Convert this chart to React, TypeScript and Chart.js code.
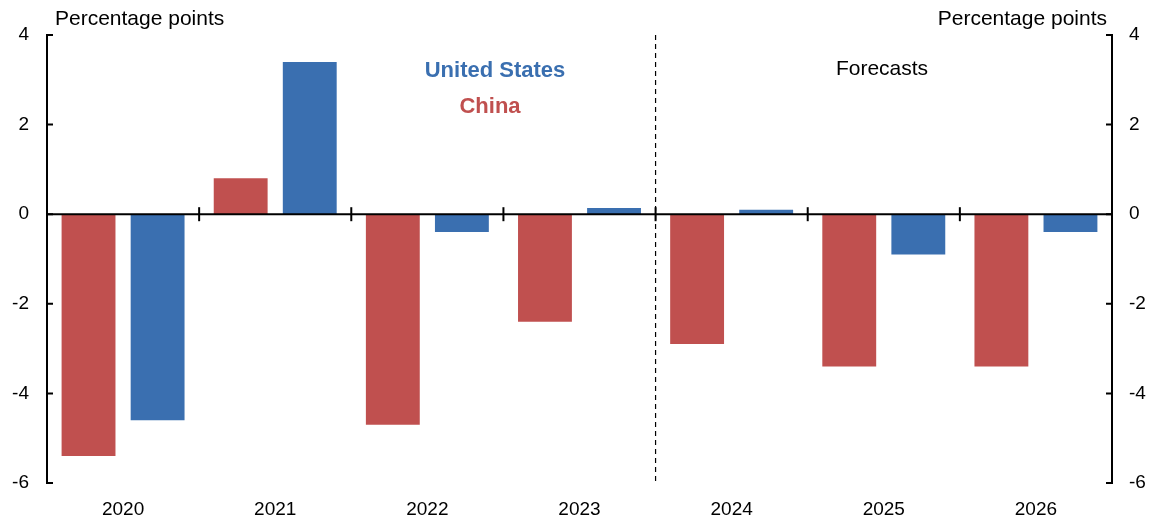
import React, { useEffect, useRef } from 'react';
import { Chart, registerables } from 'chart.js';

Chart.register(...registerables);

const categories = ['2020', '2021', '2022', '2023', '2024', '2025', '2026'];
const chinaValues = [-5.4, 0.8, -4.7, -2.4, -2.9, -3.4, -3.4];
const usValues = [-4.6, 3.4, -0.4, 0.14, 0.1, -0.9, -0.4];
const yMin = -6;
const yMax = 4;
const yStep = 2;
const forecastStartIndex = 4;

const RED = '#C0504F';
const BLUE = '#3A6FB0';
const FONT = '"Liberation Sans", Arial, sans-serif';

const overlayPlugin = {
  id: 'overlay',
  afterDatasetsDraw(chart: any) {
    const { ctx, chartArea, scales } = chart;
    const x = scales.x;
    const y = scales.y;
    const y0 = y.getPixelForValue(0);
    ctx.save();
    ctx.strokeStyle = '#000';
    ctx.lineWidth = 2;
    // zero line
    ctx.beginPath();
    ctx.moveTo(chartArea.left, y0);
    ctx.lineTo(chartArea.right, y0);
    ctx.stroke();
    // category boundary ticks
    for (let i = 1; i < categories.length; i++) {
      const bx = (x.getPixelForValue(i - 1) + x.getPixelForValue(i)) / 2;
      ctx.beginPath();
      ctx.moveTo(bx, y0 - 7);
      ctx.lineTo(bx, y0 + 7);
      ctx.stroke();
    }
    // inward y-axis ticks
    for (let v = yMin; v <= yMax; v += yStep) {
      const py = y.getPixelForValue(v);
      ctx.beginPath();
      ctx.moveTo(chartArea.left, py);
      ctx.lineTo(chartArea.left + 6, py);
      ctx.moveTo(chartArea.right, py);
      ctx.lineTo(chartArea.right - 6, py);
      ctx.stroke();
    }
    // dashed forecast divider
    const dx = (x.getPixelForValue(forecastStartIndex - 1) + x.getPixelForValue(forecastStartIndex)) / 2;
    ctx.lineWidth = 1.2;
    ctx.setLineDash([5, 4]);
    ctx.beginPath();
    ctx.moveTo(dx, chartArea.top);
    ctx.lineTo(dx, chartArea.bottom);
    ctx.stroke();
    ctx.setLineDash([]);
    // texts
    ctx.textBaseline = 'alphabetic';
    ctx.fillStyle = '#000';
    ctx.font = `21px ${FONT}`;
    ctx.textAlign = 'left';
    ctx.fillText('Percentage points', 55, 25);
    ctx.textAlign = 'right';
    ctx.fillText('Percentage points', 1107, 25);
    ctx.textAlign = 'center';
    ctx.fillText('Forecasts', 882, 75);
    ctx.font = `bold 22px ${FONT}`;
    ctx.fillStyle = BLUE;
    ctx.fillText('United States', 495, 77);
    ctx.fillStyle = RED;
    ctx.fillText('China', 490, 113);
    ctx.restore();
  },
};

export default function App() {
  const canvasRef = useRef<HTMLCanvasElement | null>(null);

  useEffect(() => {
    const canvas = canvasRef.current;
    if (!canvas) return;
    const chart = new Chart(canvas, {
      type: 'bar',
      data: {
        labels: categories,
        datasets: [
          {
            label: 'China',
            data: chinaValues,
            backgroundColor: RED,
            borderWidth: 0,
            categoryPercentage: 0.908,
            barPercentage: 0.78,
          },
          {
            label: 'United States',
            data: usValues,
            backgroundColor: BLUE,
            borderWidth: 0,
            categoryPercentage: 0.908,
            barPercentage: 0.78,
          },
        ],
      },
      options: {
        responsive: false,
        animation: false,
        layout: { padding: { top: 35, left: 0, right: 0, bottom: 0 } },
        plugins: {
          legend: { display: false },
          tooltip: { enabled: false },
        },
        scales: {
          x: {
            type: 'category',
            grid: { display: false, drawTicks: false },
            border: { display: false },
            ticks: {
              color: '#000',
              font: { family: FONT, size: 19 },
              padding: 15,
              maxRotation: 0,
            },
            afterFit: (s: any) => {
              s.height = 37;
            },
          },
          y: {
            position: 'left',
            min: yMin,
            max: yMax,
            grid: { display: false, drawTicks: false },
            border: { display: true, color: '#000', width: 2 },
            ticks: {
              stepSize: yStep,
              color: '#000',
              font: { family: FONT, size: 19 },
              padding: 18,
            },
            afterFit: (s: any) => {
              s.width = 47;
            },
          },
          y2: {
            position: 'right',
            min: yMin,
            max: yMax,
            grid: { display: false, drawTicks: false },
            border: { display: true, color: '#000', width: 2 },
            ticks: {
              stepSize: yStep,
              color: '#000',
              font: { family: FONT, size: 19 },
              padding: 17,
            },
            afterFit: (s: any) => {
              s.width = 41;
            },
          },
        },
      },
      plugins: [overlayPlugin],
    });
    return () => chart.destroy();
  }, []);

  return (
    <div style={{ position: 'absolute', left: 0, top: 0, width: 1153, height: 520, background: '#fff' }}>
      <canvas ref={canvasRef} width={1153} height={520} style={{ display: 'block' }} />
    </div>
  );
}
